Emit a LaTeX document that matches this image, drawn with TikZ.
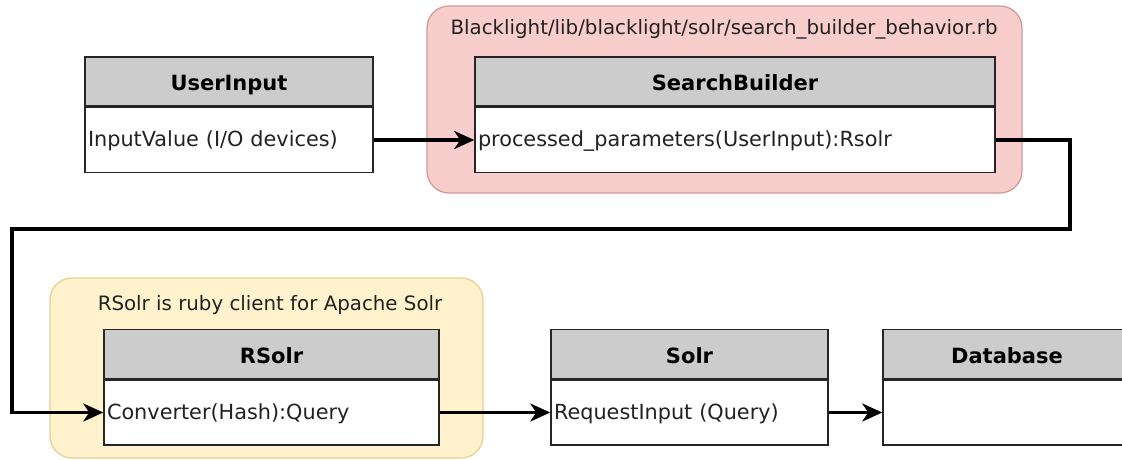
\documentclass[tikz,border=0pt]{standalone}
\usepackage{fontspec}
\setmainfont{DejaVu Sans}
\usepackage{tikz}
\usetikzlibrary{positioning, arrows.meta}
\usepackage{xcolor}
\definecolor{headgray}{HTML}{CCCCCC}
\definecolor{redfill}{HTML}{F8CECC}
\definecolor{redline}{HTML}{D49A98}
\definecolor{yelfill}{HTML}{FFF2CC}
\definecolor{yelline}{HTML}{E6D28E}
\definecolor{textgray}{HTML}{222222}
\tikzset{flowline/.style={line width=3.2pt, -{Stealth[length=20pt, width=18pt, inset=6pt]}}}
\tikzstyle{classhead} = [draw=black!85, fill=headgray, line width=1.5pt, minimum height=49pt, inner sep=0pt, text height=20pt, text depth=1pt, font=\fontsize{21}{24}\selectfont\bfseries]
\tikzstyle{classbody} = [draw=black!85, fill=white, line width=1.5pt, minimum height=65pt, inner xsep=3pt, inner ysep=0pt, text height=16pt, text depth=3pt, align=left, text=textgray, font=\fontsize{20.8}{24}\selectfont]
\tikzstyle{group} = [rounded corners=22pt, line width=1.3pt, inner sep=0pt]
\tikzstyle{grouptitle} = [text=textgray, font=\fontsize{19.8}{24}\selectfont]

\begin{document}
\begin{tikzpicture}[x=1pt, y=1pt]
		\useasboundingbox (0,0) rectangle (1122,-460);

		% containers
		\node[group, draw=redline, fill=redfill, minimum width=595pt, minimum height=187pt] (redgroup) at (724.5,-99.5) {};
		\node[grouptitle] (redtitle) at (724,-29) {Blacklight/lib/blacklight/solr/search\_builder\_behavior.rb};
		\node[group, draw=yelline, fill=yelfill, minimum width=433pt, minimum height=180pt] (yelgroup) at (266.5,-368) {};
		\node[grouptitle] (yeltitle) at (270,-305) {RSolr is ruby client for Apache Solr};

		% top row
		\node[classhead, minimum width=288pt] (userhead) at (229,-81.5) {UserInput};
		\node[classbody, text width=282pt, below=0pt of userhead] (userbody) {InputValue (I/O devices)};
		\node[classhead, minimum width=520pt] (sbhead) at (735,-81.5) {SearchBuilder};
		\node[classbody, text width=514pt, below=0pt of sbhead] (sbbody) {processed\_parameters(UserInput):Rsolr};

		% bottom row
		\node[classhead, minimum width=335pt] (rsolrhead) at (271.5,-354) {RSolr};
		\node[classbody, text width=329pt, below=0pt of rsolrhead] (rsolrbody) {Converter(Hash):Query};
		\node[classhead, minimum width=277pt] (solrhead) at (689.5,-354) {Solr};
		\node[classbody, text width=271pt, below=0pt of solrhead] (solrbody) {RequestInput (Query)};
		\node[classhead, minimum width=248pt] (dbhead) at (1007,-354) {Database};
		\node[classbody, text width=242pt, below=0pt of dbhead] (dbbody) {};

		\coordinate (bendR) at (1070,-229);
		\coordinate (bendL) at (12,-229);

		% connectors
		\draw[flowline] (userbody.east) -- (sbbody.west);
		\draw[flowline] (sbbody.east) -| (bendR) -- (bendL) |- (rsolrbody.west);
		\draw[flowline] (rsolrbody.east) -- (solrbody.west);
		\draw[flowline] (solrbody.east) -- (dbbody.west);
	\end{tikzpicture}
\end{document}
